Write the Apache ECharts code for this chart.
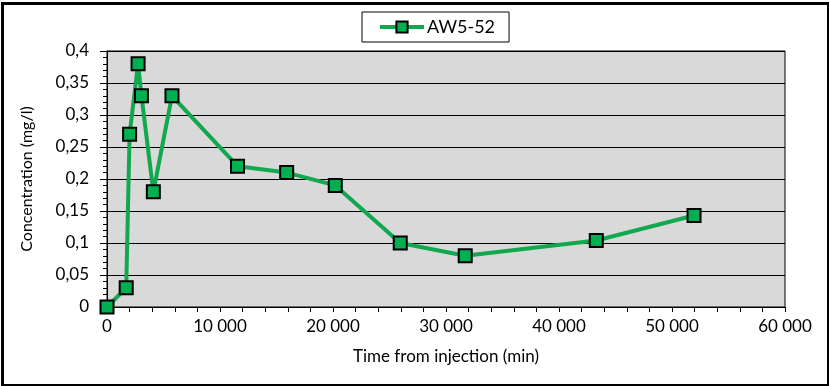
<!DOCTYPE html>
<html>
<head>
<meta charset="utf-8">
<script src="https://cdn.jsdelivr.net/npm/echarts@6/dist/echarts.min.js"></script>
<style>
html,body{margin:0;padding:0;background:#fff;}
#c{width:829px;height:386px;}
</style>
</head>
<body>
<div id="c"></div>
<script>
const seriesName = 'AW5-52';
const times = [0, 1700, 2000, 2750, 3050, 4100, 5750, 11550, 15900, 20200, 25950, 31700, 43300, 51950];
const conc = [0, 0.03, 0.27, 0.38, 0.33, 0.18, 0.33, 0.22, 0.21, 0.19, 0.10, 0.08, 0.104, 0.143];
const xTitle = 'Time from injection (min)';
const yTitle = 'Concentration (mg/l)';

const FONT = 'Lato';
const chart = echarts.init(document.getElementById('c'), null, {renderer: 'canvas'});
const data = times.map((t, i) => [t, conc[i]]);

chart.setOption({
  animation: false,
  backgroundColor: '#fff',
  textStyle: {fontFamily: FONT},
  graphic: [{
    type: 'rect', left: 0, top: 1, z: 100, silent: true,
    shape: {x: 0, y: 0, width: 826, height: 382},
    style: {fill: 'none', stroke: '#000', lineWidth: 3}
  }],
  legend: {
    left: 362, top: 12,
    borderColor: '#000', borderWidth: 1,
    padding: [6, 14, 6, 16],
    itemWidth: 44, itemHeight: 14, itemGap: 4,
    lineStyle: {width: 4},
    textStyle: {fontFamily: FONT, fontSize: 18, color: '#000', padding: [0, 0, 0, -2]},
    data: [seriesName]
  },
  grid: {
    left: 107, right: 44, top: 51, bottom: 79,
    show: true, backgroundColor: '#d9d9d9', borderColor: '#000', borderWidth: 1
  },
  xAxis: {
    type: 'value', min: 0, max: 60000, interval: 10000,
    name: xTitle, nameLocation: 'middle', nameGap: 41,
    nameTextStyle: {fontFamily: FONT, fontSize: 17, color: '#000'},
    axisLine: {lineStyle: {color: '#000', width: 1}},
    axisTick: {show: true, length: 5, lineStyle: {color: '#000'}},
    minorTick: {show: true, splitNumber: 5, length: 5, lineStyle: {color: '#000'}},
    axisLabel: {fontFamily: FONT, fontSize: 17, color: '#000', margin: 11,
      formatter: v => String(v).replace(/\B(?=(\d{3})+(?!\d))/g, ' ')},
    splitLine: {show: false}
  },
  yAxis: {
    type: 'value', min: 0, max: 0.4, interval: 0.05,
    name: yTitle, nameLocation: 'middle', nameGap: 72, nameRotate: 90,
    nameTextStyle: {fontFamily: FONT, fontSize: 16, color: '#000'},
    axisLine: {show: true, lineStyle: {color: '#000', width: 1}},
    axisTick: {show: true, length: 7, lineStyle: {color: '#000'}},
    minorTick: {show: true, splitNumber: 5, length: 4, lineStyle: {color: '#000'}},
    axisLabel: {fontFamily: FONT, fontSize: 17, color: '#000', margin: 18,
      formatter: v => String(+v.toFixed(2)).replace('.', ',')},
    splitLine: {show: true, lineStyle: {color: '#000', width: 1}}
  },
  series: [{
    name: seriesName,
    type: 'line',
    data: data,
    symbol: 'rect',
    symbolSize: 13,
    lineStyle: {color: '#11a84f', width: 4},
    itemStyle: {color: '#00b050', borderColor: '#000', borderWidth: 2},
    z: 5
  }]
});
</script>
</body>
</html>
